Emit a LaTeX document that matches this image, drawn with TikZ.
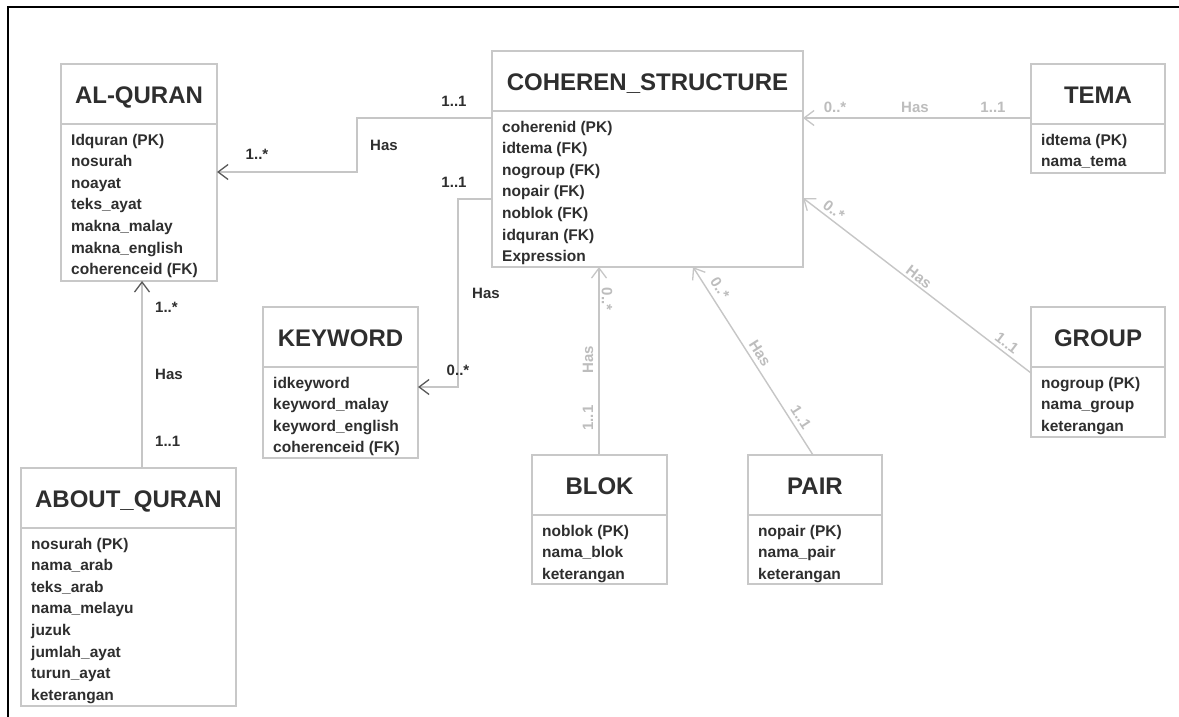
\documentclass[tikz,border=0pt]{standalone}
\usepackage{fontspec}
\setmainfont{Liberation Sans}
\usetikzlibrary{arrows.meta}

\definecolor{boxgray}{HTML}{C8C8C8}
\definecolor{linkgray}{HTML}{C6C6C6}
\definecolor{labelgray}{HTML}{BDBDBD}
\definecolor{inkdark}{HTML}{2E2E2E}
\definecolor{tipdark}{HTML}{5A5A5A}

\tikzset{
  ebox/.style={draw=boxgray, line width=1.5pt, fill=white, inner sep=0pt, outer sep=0pt, anchor=north west},
  divider/.style={draw=boxgray, line width=1.5pt},
  etitle/.style={font=\bfseries\fontsize{24}{24}\selectfont, text=inkdark, anchor=base, inner sep=0pt},
  eattr/.style={font=\bfseries\fontsize{15.5}{15.5}\selectfont, text=inkdark, anchor=base west, inner sep=0pt},
  link/.style={draw=linkgray, line width=1.4pt},
  darktip/.style={-{Straight Barb[length=10pt,width=15pt,line width=1.3pt,color=tipdark]}},
  graytip/.style={-{Straight Barb[length=10pt,width=15pt,line width=1.3pt,color=linkgray]}},
  blacklbl/.style={font=\bfseries\fontsize{15}{15}\selectfont, text=inkdark, inner sep=0pt},
  graylbl/.style={font=\bfseries\fontsize{15}{15}\selectfont, text=labelgray, inner sep=0pt},
}

% \entity{name}{x1}{y1}{x2}{y2}{divider y}{title}{attributes}
\newcommand\entity[8]{%
  \node[ebox, minimum width={(#4-#2)*1pt}, minimum height={(#5-#3)*1pt}] (#1) at (#2,#3) {};
  \draw[divider] (#1.west |- 0,#6) -- (#1.east |- 0,#6);
  \node[etitle] (#1-title) at ({(#2+#4)/2},{(#3+#6)/2+9.5}) {#7};
  \foreach \attr [count=\i] in {#8}
    \node[eattr] (#1-a\i) at (#2+10, {#6+21+21.6*(\i-1)}) {\attr};
}

\begin{document}
\begin{tikzpicture}[x=1pt, y=-1pt]
  \useasboundingbox (0,0) rectangle (1179,717);
  \fill[white] (0,0) rectangle (1179,717);

  % page frame
  \draw[black, line width=2.2pt] (8,717) -- (8,7) -- (1179,7);

  % entities
  \entity{alq}{61}{64}{217}{281}{124}{AL-QURAN}%
    {Idquran (PK), nosurah, noayat, teks\_ayat, makna\_malay, makna\_english, coherenceid (FK)}
  \entity{cs}{492}{51}{803}{267}{111}{COHEREN\_STRUCTURE}%
    {coherenid (PK), idtema (FK), nogroup (FK), nopair (FK), noblok (FK), idquran (FK), Expression}
  \entity{tema}{1031}{64}{1165}{173}{124}{TEMA}%
    {idtema (PK), nama\_tema}
  \entity{group}{1031}{307}{1165}{437}{367}{GROUP}%
    {nogroup (PK), nama\_group, keterangan}
  \entity{kw}{263}{307}{418}{458}{367}{KEYWORD}%
    {idkeyword, keyword\_malay, keyword\_english, coherenceid (FK)}
  \entity{aq}{21}{468}{236}{706}{528}{ABOUT\_QURAN}%
    {nosurah (PK), nama\_arab, teks\_arab, nama\_melayu, juzuk, jumlah\_ayat, turun\_ayat, keterangan}
  \entity{blok}{532}{455}{667}{584}{515}{BLOK}%
    {noblok (PK), nama\_blok, keterangan}
  \entity{pair}{748}{455}{882}{584}{515}{PAIR}%
    {nopair (PK), nama\_pair, keterangan}

  % relationships on the left
  \draw[link, darktip] (cs.west |- 0,118) -- (357,118) -- (357,172) -- (alq.east |- 0,172);
  \node[blacklbl] (l-cs-alq-a) at (454,101) {1..1};
  \node[blacklbl] (l-cs-alq-b) at (384,145) {Has};
  \node[blacklbl] (l-cs-alq-c) at (257,154) {1..*};

  \draw[link, darktip] (cs.west |- 0,199) -- (458,199) -- (458,387) -- (kw.east |- 0,387);
  \node[blacklbl] (l-cs-kw-a) at (454,182) {1..1};
  \node[blacklbl] (l-cs-kw-b) at (486,293) {Has};
  \node[blacklbl] (l-cs-kw-c) at (458,370) {0..*};

  \draw[link, darktip] (aq.north -| 142,0) -- (alq.south -| 142,0);
  \node[blacklbl, anchor=west] (l-aq-a) at (155,307) {1..*};
  \node[blacklbl, anchor=west] (l-aq-b) at (155,374) {Has};
  \node[blacklbl, anchor=west] (l-aq-c) at (155,441) {1..1};

  % relationships on the right
  \draw[link, graytip] (tema.west |- 0,118) -- (cs.east |- 0,118);
  \node[graylbl] (l-tema-a) at (835,107) {0..*};
  \node[graylbl] (l-tema-b) at (915,107) {Has};
  \node[graylbl] (l-tema-c) at (993,107) {1..1};

  \draw[link, graytip] (group.west |- 0,373) -- (cs.east |- 0,198);
  \node[graylbl, rotate=-37.5] (l-group-a) at (834,210) {0..*};
  \node[graylbl, rotate=-37.5] (l-group-b) at (919,277) {Has};
  \node[graylbl, rotate=-37.5] (l-group-c) at (1007,343) {1..1};

  \draw[link, graytip] (blok.north -| 599,0) -- (cs.south -| 599,0);
  \node[graylbl, rotate=-90] (l-blok-a) at (607,299) {0..*};
  \node[graylbl, rotate=90] (l-blok-b) at (588,360) {Has};
  \node[graylbl, rotate=90] (l-blok-c) at (588,418) {1..1};

  \draw[link, graytip] (pair.north -| 813,0) -- (cs.south -| 693,0);
  \node[graylbl, rotate=-57.4] (l-pair-a) at (720,288) {0..*};
  \node[graylbl, rotate=-57.4] (l-pair-b) at (760,353) {Has};
  \node[graylbl, rotate=-57.4] (l-pair-c) at (801,417) {1..1};
\end{tikzpicture}
\end{document}
